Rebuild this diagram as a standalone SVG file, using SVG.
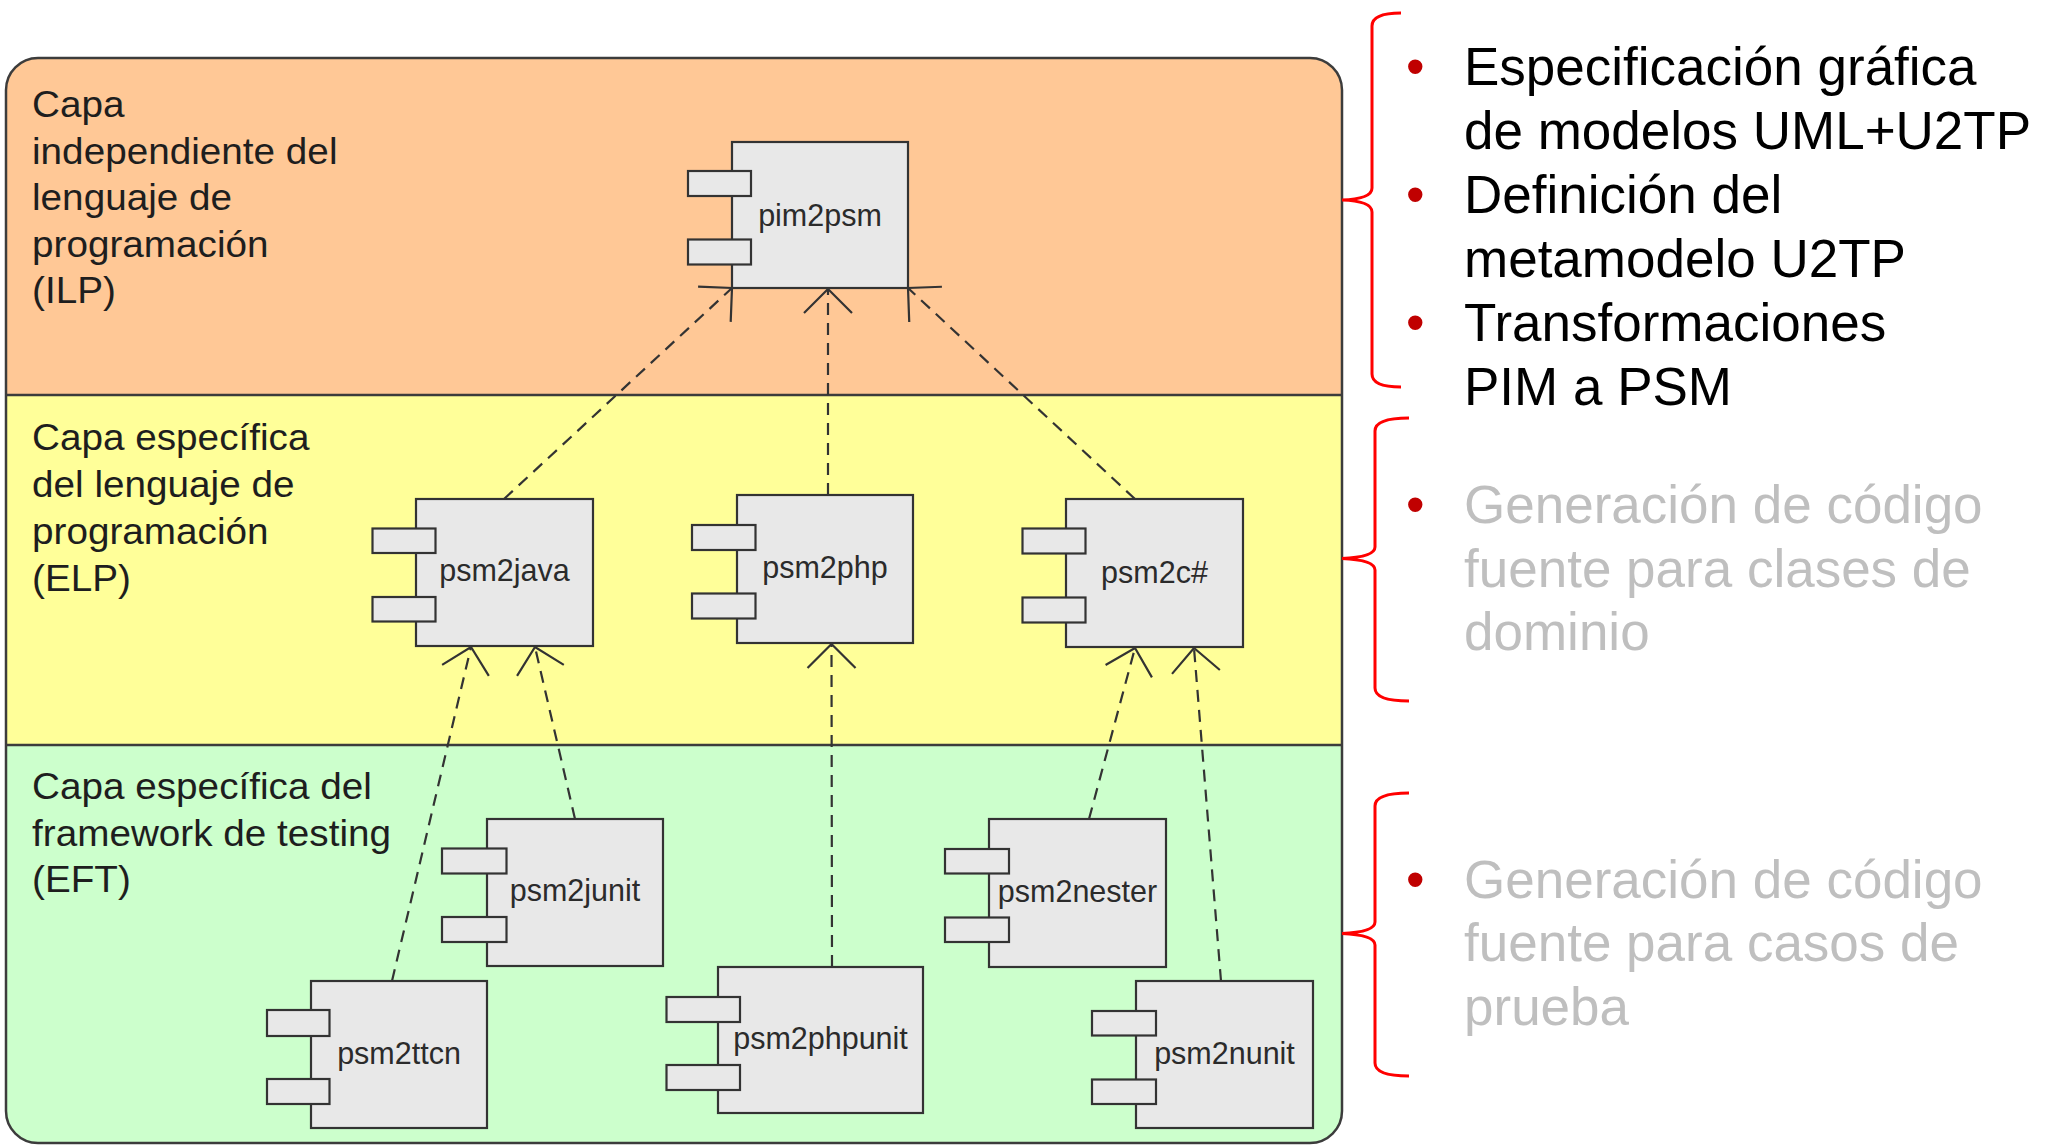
<svg xmlns="http://www.w3.org/2000/svg" width="2049" height="1145" viewBox="0 0 2049 1145">
  <style>
    .band-line { stroke: #3c3c3c; stroke-width: 2.5; fill: none; }
    .layer-label { font-family: "Liberation Sans", Arial, sans-serif; font-size: 36.5px; fill: #1e1e1e; }
    .comp rect { fill: #e8e8e8; stroke: #333333; stroke-width: 2.2; }
    .comp text { font-family: "Liberation Sans", Arial, sans-serif; font-size: 30.5px; fill: #2b2b2b; text-anchor: middle; }
    .dep { stroke: #333333; stroke-width: 2.2; stroke-dasharray: 12 8; fill: none; marker-end: url(#open-arrow); }
    .brace { stroke: #ff0000; stroke-width: 3; fill: none; }
    .note { font-family: "Liberation Sans", Arial, sans-serif; font-size: 53px; }
    .note-main { fill: #000000; }
    .note-dim { fill: #bfbfbf; }
    .bullet { fill: #c00000; }
  </style>
  <defs>
    <clipPath id="frame-clip">
      <rect x="6" y="58" width="1336" height="1085" rx="32" ry="32"/>
    </clipPath>
    <marker id="open-arrow" markerUnits="userSpaceOnUse" viewBox="-40 -40 80 80" markerWidth="80" markerHeight="80" refX="0" refY="0" orient="auto" overflow="visible">
      <path d="M-24,-24 L0,0 L-24,24" fill="none" stroke="#333333" stroke-width="2.2" stroke-dasharray="none"/>
    </marker>
  </defs>

  <rect width="2049" height="1145" fill="#ffffff"/>

  <!-- layered frame -->
  <g id="layers">
    <g clip-path="url(#frame-clip)">
      <rect x="0" y="50" width="1350" height="345" fill="#ffc896"/>
      <rect x="0" y="395" width="1350" height="350" fill="#ffff99"/>
      <rect x="0" y="745" width="1350" height="400" fill="#ccffcc"/>
    </g>
    <line class="band-line" x1="6" y1="395" x2="1342" y2="395"/>
    <line class="band-line" x1="6" y1="745" x2="1342" y2="745"/>
    <rect class="band-line" x="6" y="58" width="1336" height="1085" rx="32" ry="32"/>

    <g class="layer-label" transform="translate(32 0) scale(1.06 1)">
      <text x="0" y="117">Capa</text>
      <text x="0" y="164">independiente del</text>
      <text x="0" y="210">lenguaje de</text>
      <text x="0" y="257">programación</text>
      <text x="0" y="303">(ILP)</text>

      <text x="0" y="450">Capa específica</text>
      <text x="0" y="497">del lenguaje de</text>
      <text x="0" y="544">programación</text>
      <text x="0" y="591">(ELP)</text>

      <text x="0" y="799">Capa específica del</text>
      <text x="0" y="846">framework de testing</text>
      <text x="0" y="892">(EFT)</text>
    </g>
  </g>

  <!-- dependency connectors -->
  <g id="connectors">
    <line class="dep" x1="504" y1="499" x2="732" y2="288"/>
    <line class="dep" x1="828" y1="495" x2="828" y2="289"/>
    <line class="dep" x1="1135" y1="499" x2="908" y2="288"/>

    <line class="dep" x1="392" y1="981" x2="471" y2="647"/>
    <line class="dep" x1="575" y1="819" x2="535" y2="647"/>
    <line class="dep" x1="832" y1="967" x2="831.5" y2="644"/>
    <line class="dep" x1="1089" y1="819" x2="1135" y2="648"/>
    <line class="dep" x1="1221" y1="981" x2="1194" y2="648"/>
  </g>

  <!-- components -->
  <g id="pim2psm" class="comp">
    <rect x="732" y="142" width="176" height="146"/>
    <rect x="688" y="171" width="63" height="25"/>
    <rect x="688" y="239.5" width="63" height="25"/>
    <text x="820" y="226">pim2psm</text>
  </g>
  <g id="psm2java" class="comp">
    <rect x="416" y="499" width="177" height="147"/>
    <rect x="372.5" y="528.5" width="63" height="24.5"/>
    <rect x="372.5" y="597" width="63" height="24.5"/>
    <text x="504.5" y="581">psm2java</text>
  </g>
  <g id="psm2php" class="comp">
    <rect x="737" y="495" width="176" height="148"/>
    <rect x="692" y="525" width="63.5" height="25"/>
    <rect x="692" y="593.5" width="63.5" height="25"/>
    <text x="825" y="577.5">psm2php</text>
  </g>
  <g id="psm2csharp" class="comp">
    <rect x="1066" y="499" width="177" height="148"/>
    <rect x="1022.5" y="528.5" width="63" height="25"/>
    <rect x="1022.5" y="597.5" width="63" height="25"/>
    <text x="1154.5" y="582.5">psm2c#</text>
  </g>
  <g id="psm2junit" class="comp">
    <rect x="487" y="819" width="176" height="147"/>
    <rect x="442" y="848.5" width="64.5" height="25"/>
    <rect x="442" y="917" width="64.5" height="25"/>
    <text x="575" y="901">psm2junit</text>
  </g>
  <g id="psm2ttcn" class="comp">
    <rect x="311" y="981" width="176" height="147"/>
    <rect x="267" y="1010" width="62.5" height="26"/>
    <rect x="267" y="1079" width="62.5" height="25"/>
    <text x="399" y="1063.5">psm2ttcn</text>
  </g>
  <g id="psm2phpunit" class="comp">
    <rect x="718" y="967" width="205" height="146"/>
    <rect x="666.5" y="997" width="73.5" height="25"/>
    <rect x="666.5" y="1065" width="73.5" height="25"/>
    <text x="820.5" y="1048.5">psm2phpunit</text>
  </g>
  <g id="psm2nester" class="comp">
    <rect x="989" y="819" width="177" height="148"/>
    <rect x="945" y="849" width="64" height="24.5"/>
    <rect x="945" y="917.5" width="64" height="24.5"/>
    <text x="1077.5" y="902">psm2nester</text>
  </g>
  <g id="psm2nunit" class="comp">
    <rect x="1136" y="981" width="177" height="147"/>
    <rect x="1092" y="1011" width="64" height="24.5"/>
    <rect x="1092" y="1079.5" width="64" height="24.5"/>
    <text x="1224.5" y="1064">psm2nunit</text>
  </g>

  <!-- annotations on the right -->
  <g id="note-ilp">
    <path class="brace" d="M1401,13 Q1372,13 1372,26 L1372,188 Q1372,199 1342,200 Q1372,201 1372,212 L1372,374 Q1372,387 1401,387"/>
    <g class="note">
      <text class="bullet" x="1406" y="85">•</text>
      <text class="bullet" x="1406" y="212.5">•</text>
      <text class="bullet" x="1406" y="340.5">•</text>
      <text class="note-main" x="1464" y="85">Especificación gráfica</text>
      <text class="note-main" x="1464" y="148.5">de modelos UML+U2TP</text>
      <text class="note-main" x="1464" y="212.5">Definición del</text>
      <text class="note-main" x="1464" y="276.5">metamodelo U2TP</text>
      <text class="note-main" x="1464" y="340.5">Transformaciones</text>
      <text class="note-main" x="1464" y="405">PIM a PSM</text>
    </g>
  </g>
  <g id="note-elp">
    <path class="brace" d="M1409,418 Q1375,418 1375,431 L1375,547 Q1375,557 1342,558.5 Q1375,560 1375,570 L1375,688 Q1375,701 1409,701"/>
    <g class="note">
      <text class="bullet" x="1406" y="523">•</text>
      <text class="note-dim" x="1464" y="523">Generación de código</text>
      <text class="note-dim" x="1464" y="586.5">fuente para clases de</text>
      <text class="note-dim" x="1464" y="650">dominio</text>
    </g>
  </g>
  <g id="note-eft">
    <path class="brace" d="M1409,793 Q1375,793 1375,806 L1375,922 Q1375,932 1342,933.5 Q1375,935 1375,945 L1375,1063 Q1375,1076 1409,1076"/>
    <g class="note">
      <text class="bullet" x="1406" y="898">•</text>
      <text class="note-dim" x="1464" y="898">Generación de código</text>
      <text class="note-dim" x="1464" y="961">fuente para casos de</text>
      <text class="note-dim" x="1464" y="1025">prueba</text>
    </g>
  </g>
</svg>
